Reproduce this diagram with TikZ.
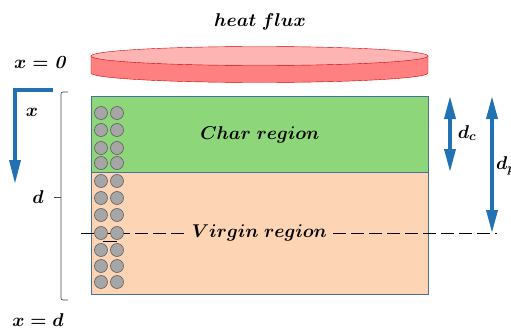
\documentclass[tikz,border=0pt]{standalone}
\usepackage{fix-cm}
\usepackage{amsmath}
\usetikzlibrary{arrows.meta}

\definecolor{charGreen}{RGB}{141,214,122}
\definecolor{virginPeach}{RGB}{253,212,180}
\definecolor{axisBlue}{RGB}{34,113,178}
\definecolor{boxBlue}{RGB}{72,112,160}
\definecolor{fluxRed}{RGB}{255,128,128}
\definecolor{fluxLight}{RGB}{255,180,180}
\definecolor{dotGray}{RGB}{166,166,166}

\tikzset{
  lbl/.style={font=\fontsize{18.5}{22}\selectfont\boldmath, inner sep=1pt},
  region/.style={draw=boxBlue, line width=0.8pt, anchor=north west, inner sep=0pt},
  dot/.style={circle, fill=dotGray, draw=gray!75!black, line width=0.6pt,
              minimum size=13pt, inner sep=0pt},
  bluearrow/.style={axisBlue, line width=3.5pt, line join=miter,
              -{Triangle[width=11pt,length=24pt]}},
  thickness/.style={axisBlue, line width=3.5pt,
              {Triangle[width=11pt,length=23pt]}-{Triangle[width=11pt,length=23pt]}},
}

\begin{document}
\begin{tikzpicture}[x=1pt,y=-1pt]
    \useasboundingbox (0,0) rectangle (511,329);

    % 热流圆盘
    \draw[red!85!black, fill=fluxRed] (91,56) -- (91,73)
        arc (180:0:168.5 and 9.5) -- (428,56) -- cycle;
    \draw[red!85!black, fill=fluxLight] (259.5,56) ellipse (168.5 and 9.5);
    \node[lbl] (flux) at (260,22) {$heat\ flux$};

    % 两个区域
    \node[region, fill=charGreen, minimum width=337pt, minimum height=76pt]
        (char) at (91,96) {};
    \node[region, fill=virginPeach, minimum width=337pt, minimum height=122pt]
        (virgin) at (91,172) {};

    % 虚线
    \coordinate (dashL) at (81,233);
    \coordinate (dashR) at (497,233);
    \draw[dash pattern=on 13pt off 5pt, line width=0.9pt] (dashL) -- (dashR);

    % 圆点
    \foreach \y [count=\i] in {113,130,148,163,181,198,215,233,250,266,282} {
        \node[dot] (dotA\i) at (101,\y) {};
        \node[dot] (dotB\i) at (117,\y) {};
    }
    \draw[line width=0.8pt] (103,241) -- (117,241);

    % 标注
    \node[lbl] (charlbl) at (char.center) {$Char\ region$};
    \node[lbl, fill=virginPeach, inner xsep=5pt] (virginlbl) at (259.5,233) {$Virgin\ region$};
    \node[lbl] (x0) at (41,63) {$x=\mathit{0}$};
    \node[lbl] (xd) at (38,320) {$x=d$};

    % 坐标方向
    \coordinate (axEnd) at (53,90);
    \coordinate (axCorner) at (15,90);
    \coordinate (axTip) at (15,184);
    \draw[bluearrow] (axEnd) -- (axCorner) -- (axTip);
    \node[lbl] (xlbl) at (32,112) {$x$};

    % 括号
    \draw[gray!60!black, line width=0.7pt, rounded corners=2pt]
        (68,92) -| (61,197) |- (68,300);
    \draw[gray!60!black, line width=0.7pt] (61,197) -- (54,197);
    \node[lbl] (dlbl) at (38,197) {$d$};

    % 厚度箭头
    \coordinate (dcTop) at (450,96);
    \coordinate (dcBot) at (450,172);
    \coordinate (dpTop) at (492,96);
    \coordinate (dpBot) at (492,233);
    \draw[thickness] (dcTop) -- (dcBot);
    \draw[thickness] (dpTop) -- (dpBot);
    \node[lbl] (dclbl) at (467,133) {$d_c$};
    \node[lbl, anchor=west] (dplbl) at (495,166) {$d_p$};
\end{tikzpicture}
\end{document}
